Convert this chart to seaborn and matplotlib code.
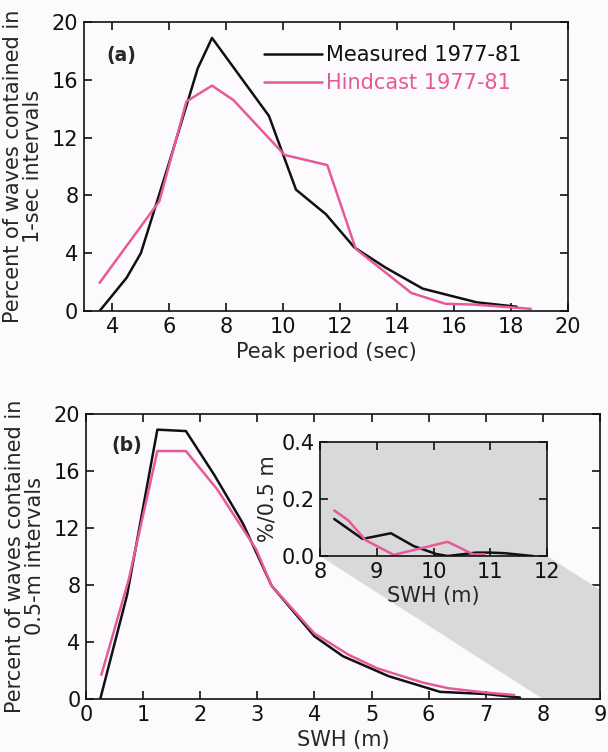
import matplotlib
matplotlib.use("Agg")
import matplotlib.pyplot as plt
from matplotlib.patches import Polygon
import seaborn as sns
import pandas as pd
import numpy as np

# ---------------- data ----------------
# panel (a): peak period distribution
tp_meas_x = [3.55, 4.5, 5.0, 6.0, 7.0, 7.5, 9.5, 10.45, 11.5, 12.5, 13.6, 14.9, 15.8, 16.8, 18.2]
tp_meas_y = [0.0, 2.3, 4.0, 10.3, 16.8, 18.9, 13.5, 8.4, 6.7, 4.4, 3.0, 1.55, 1.1, 0.6, 0.3]
tp_hind_x = [3.55, 5.65, 6.6, 7.5, 8.25, 10.05, 11.55, 12.55, 14.5, 15.7, 16.7, 18.7]
tp_hind_y = [1.95, 7.6, 14.5, 15.6, 14.6, 10.8, 10.1, 4.3, 1.25, 0.5, 0.45, 0.15]

# panel (b): significant wave height distribution
h_meas_x = [0.25, 0.72, 1.25, 1.75, 2.25, 2.75, 3.25, 4.0, 4.5, 5.3, 6.2, 7.0, 7.6]
h_meas_y = [0.0, 7.3, 18.9, 18.8, 15.7, 12.3, 7.95, 4.4, 3.0, 1.6, 0.5, 0.35, 0.1]
h_hind_x = [0.27, 0.75, 1.25, 1.75, 2.3, 2.98, 3.25, 4.0, 4.6, 5.1, 5.9, 6.35, 7.0, 7.5]
h_hind_y = [1.7, 8.4, 17.4, 17.4, 14.7, 10.5, 7.95, 4.6, 3.1, 2.15, 1.15, 0.75, 0.45, 0.28]

# inset: tail of SWH distribution
t_meas_x = [8.25, 8.75, 9.25, 9.65, 10.05, 10.25, 10.75, 11.0, 11.25, 11.75]
t_meas_y = [0.13, 0.06, 0.08, 0.035, 0.007, 0.0, 0.012, 0.012, 0.01, 0.0]
t_hind_x = [8.25, 8.5, 8.8, 9.3, 10.25, 10.7, 10.9]
t_hind_y = [0.16, 0.125, 0.056, 0.004, 0.05, 0.006, 0.006]

series_names = ["Measured 1977-81", "Hindcast 1977-81"]
colors = {"Measured 1977-81": "#111111", "Hindcast 1977-81": "#e65a9a"}

def frame(mx, my, hx, hy):
    return pd.concat([
        pd.DataFrame({"x": mx, "y": my, "series": series_names[0]}),
        pd.DataFrame({"x": hx, "y": hy, "series": series_names[1]}),
    ], ignore_index=True)

df_a = frame(tp_meas_x, tp_meas_y, tp_hind_x, tp_hind_y)
df_b = frame(h_meas_x, h_meas_y, h_hind_x, h_hind_y)
df_c = frame(t_meas_x, t_meas_y, t_hind_x, t_hind_y)

# ---------------- style ----------------
sns.set_style("ticks")
plt.rcParams["font.family"] = ["DejaVu Sans"]
plt.rcParams["font.size"] = 15
bg = "#fcfafc"
gray = "#d9d9d9"
lw = 1.8

fig = plt.figure(figsize=(6.08, 7.52), dpi=100, facecolor=bg)
ax1 = fig.add_axes([0.138, 0.5864, 0.796, 0.3843])
ax2 = fig.add_axes([0.1414, 0.0705, 0.8454, 0.379])
ax3 = fig.add_axes([0.5263, 0.2606, 0.3734, 0.1516])

def style(ax):
    ax.set_facecolor(bg)
    for s in ax.spines.values():
        s.set_linewidth(1.2)
        s.set_color("#111111")
    ax.tick_params(direction="in", top=True, right=True, length=5.5, width=1.2,
                   labelsize=15, pad=4, colors="#111111")

# panel (a)
sns.lineplot(data=df_a, x="x", y="y", hue="series", palette=colors, sort=False,
             estimator=None, linewidth=lw, ax=ax1)
ax1.set_xlim(3, 20)
ax1.set_ylim(0, 20)
ax1.set_xticks(np.arange(4, 21, 2))
ax1.set_yticks(np.arange(0, 21, 4))
ax1.set_xlabel("Peak period (sec)", fontsize=15, labelpad=4)
ax1.set_ylabel("Percent of waves contained in\n1-sec intervals", fontsize=15,
               labelpad=6, linespacing=1.05)
style(ax1)
ax1.legend(title=None, frameon=False, loc="upper left", bbox_to_anchor=(0.355, 0.95),
           handlelength=2.8, handletextpad=0.15, labelspacing=0.4, fontsize=15,
           labelcolor="linecolor", borderaxespad=0)
ax1.text(0.047, 0.883, "(a)", transform=ax1.transAxes, fontsize=13.5,
         fontweight="bold", va="center", ha="left")

# panel (b)
sns.lineplot(data=df_b, x="x", y="y", hue="series", palette=colors, sort=False,
             estimator=None, linewidth=lw, ax=ax2, legend=False, zorder=3)
ax2.set_xlim(0, 9)
ax2.set_ylim(0, 20)
ax2.set_xticks(np.arange(0, 10, 1))
ax2.set_yticks(np.arange(0, 21, 4))
ax2.set_xlabel("SWH (m)", fontsize=15, labelpad=4)
ax2.set_ylabel("Percent of waves contained in\n0.5-m intervals", fontsize=15,
               labelpad=6, linespacing=1.05)
style(ax2)
ax2.text(0.049, 0.888, "(b)", transform=ax2.transAxes, fontsize=13.5,
         fontweight="bold", va="center", ha="left")

# inset
sns.lineplot(data=df_c, x="x", y="y", hue="series", palette=colors, sort=False,
             estimator=None, linewidth=lw, ax=ax3, legend=False)
ax3.set_xlim(8, 12)
ax3.set_ylim(0, 0.4)
ax3.set_xticks(np.arange(8, 13, 1))
ax3.set_yticks([0.0, 0.2, 0.4])
ax3.set_yticklabels(["0.0", "0.2", "0.4"])
ax3.set_xlabel("SWH (m)", fontsize=15, labelpad=3)
ax3.set_ylabel("%/0.5 m", fontsize=15, labelpad=3)
style(ax3)
ax3.set_facecolor(gray)

# projection band from main x-range 8-12 at y=0 to inset bottom corners
fig.canvas.draw()
inv = ax2.transData.inverted()
bl = inv.transform(ax3.transAxes.transform((0, 0)))
br = inv.transform(ax3.transAxes.transform((1, 0)))
lo, hi = ax3.get_xlim()
band = Polygon([bl, (lo, 0), (hi, 0), br], closed=True, facecolor=gray,
               edgecolor="none", zorder=1, transform=ax2.transData, clip_on=True)
ax2.add_patch(band)

fig.savefig("out.png", dpi=100, facecolor=bg)
